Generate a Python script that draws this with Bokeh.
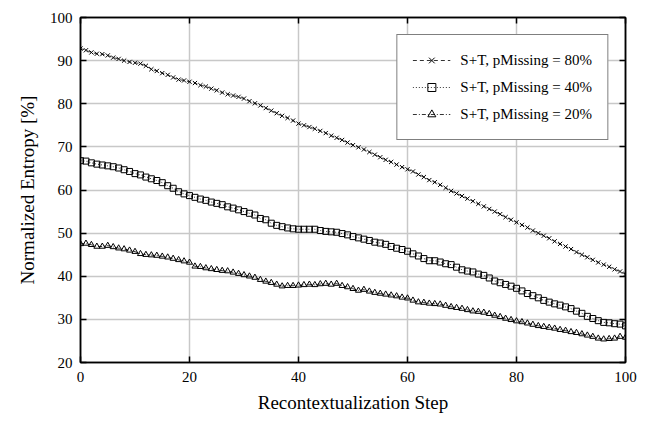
from bokeh.plotting import figure
from bokeh.models import (Range1d, LinearAxis, Legend, LegendItem, FixedTicker,
                          ColumnDataSource)
from bokeh.embed import file_html
from bokeh.resources import INLINE

steps = list(range(0, 101))

p80 = [92.8, 92.4, 91.9, 91.6, 91.5, 91.2, 90.7, 90.4, 90.0, 89.7,
       89.5, 89.3, 88.8, 88.0, 87.6, 87.1, 86.7, 86.1, 85.6, 85.4,
       85.1, 84.8, 84.3, 84.0, 83.5, 83.1, 82.6, 82.2, 81.9, 81.6,
       81.2, 80.6, 80.1, 79.6, 79.0, 78.4, 77.8, 77.2, 76.7, 76.1,
       75.4, 75.0, 74.6, 74.2, 73.7, 73.2, 72.6, 72.1, 71.6, 71.0,
       70.4, 69.9, 69.4, 68.8, 68.2, 67.6, 67.0, 66.5, 65.9, 65.3,
       64.8, 64.3, 63.6, 63.0, 62.3, 61.8, 61.2, 60.5, 59.8, 59.2,
       58.6, 58.0, 57.4, 56.8, 56.2, 55.6, 55.0, 54.4, 53.7, 53.1,
       52.5, 51.9, 51.3, 50.6, 50.0, 49.4, 48.8, 48.1, 47.5, 46.9,
       46.3, 45.6, 45.0, 44.4, 43.8, 43.2, 42.7, 42.2, 41.6, 41.1,
       40.5]

p40 = [66.8, 66.7, 66.3, 66.0, 65.8, 65.6, 65.4, 65.1, 64.7, 64.3,
       63.8, 63.5, 63.0, 62.6, 62.2, 61.7, 61.0, 60.4, 59.6, 59.1,
       58.7, 58.3, 57.9, 57.6, 57.2, 56.9, 56.6, 56.1, 55.8, 55.4,
       55.0, 54.6, 54.2, 53.4, 53.1, 52.3, 51.8, 51.5, 51.2, 51.0,
       50.9, 50.9, 50.9, 50.9, 50.6, 50.4, 50.3, 50.2, 49.9, 49.6,
       49.2, 48.9, 48.6, 48.3, 47.9, 47.7, 47.4, 46.9, 46.5, 46.2,
       45.8, 45.2, 44.7, 44.1, 43.6, 43.6, 43.3, 42.9, 42.7, 42.1,
       41.5, 41.2, 41.0, 40.5, 40.2, 39.6, 38.9, 38.5, 38.1, 37.7,
       37.2, 36.6, 36.0, 35.5, 35.0, 34.4, 34.0, 33.6, 33.3, 32.9,
       32.5, 31.9, 31.4, 30.7, 30.2, 29.7, 29.3, 29.2, 29.0, 28.9,
       28.5]

p20 = [47.5, 47.6, 47.3, 46.9, 46.9, 47.1, 46.8, 46.5, 46.3, 46.0,
       45.7, 45.2, 45.0, 44.9, 44.8, 44.6, 44.4, 44.1, 43.8, 43.5,
       43.2, 42.3, 42.2, 41.9, 41.7, 41.5, 41.3, 41.2, 40.9, 40.6,
       40.3, 40.0, 39.7, 39.2, 38.8, 38.5, 38.1, 37.7, 37.8, 37.8,
       37.9, 38.0, 38.1, 38.0, 38.2, 38.3, 38.1, 38.3, 37.8, 37.5,
       37.1, 36.7, 36.9, 36.5, 36.2, 36.0, 35.8, 35.6, 35.4, 35.1,
       34.9, 34.4, 34.0, 33.9, 33.7, 33.6, 33.5, 33.2, 32.9, 32.7,
       32.5, 32.2, 31.9, 31.8, 31.6, 31.3, 30.9, 30.6, 30.2, 29.9,
       29.6, 29.4, 29.1, 28.8, 28.5, 28.3, 28.1, 27.9, 27.6, 27.4,
       27.1, 26.9, 26.6, 26.3, 26.0, 25.6, 25.4, 25.5, 25.6, 26.0,
       25.8]

labels = ["S+T, pMissing = 80%", "S+T, pMissing = 40%", "S+T, pMissing = 20%"]
x_ticks = [0, 20, 40, 60, 80, 100]
y_ticks = [20, 30, 40, 50, 60, 70, 80, 90, 100]

FONT = "Liberation Serif"

p = figure(width=647, height=421, output_backend="svg", toolbar_location=None,
           x_range=Range1d(0, 100), y_range=Range1d(20, 100),
           min_border_left=80, min_border_right=22, min_border_top=17,
           min_border_bottom=59)
p.background_fill_color = "white"
p.border_fill_color = "white"
p.outline_line_color = "black"
p.outline_line_width = 1.5

def style_axis(ax, show_labels=True):
    ax.axis_line_color = "black"
    ax.axis_line_width = 1.5
    ax.major_tick_in = 6
    ax.major_tick_out = 0
    ax.major_tick_line_width = 1.5
    ax.major_tick_line_color = "black"
    ax.minor_tick_line_color = None
    ax.major_label_text_font = FONT
    ax.axis_label_text_font = FONT
    ax.axis_label_text_font_style = "normal"
    ax.axis_label_text_color = "black"
    ax.axis_label_text_font_size = "19px"
    if show_labels:
        ax.major_label_text_font_size = "15px"
        ax.major_label_text_color = "black"
    else:
        ax.major_label_text_font_size = "0px"
        ax.major_label_text_color = None
        ax.major_label_standoff = 0

p.xaxis.ticker = FixedTicker(ticks=x_ticks)
p.yaxis.ticker = FixedTicker(ticks=y_ticks)
style_axis(p.xaxis[0])
style_axis(p.yaxis[0])
p.xaxis.axis_label = "Recontextualization Step"
p.yaxis.axis_label = "Normalized Entropy [%]"
p.xaxis.major_label_standoff = 9
p.yaxis.major_label_standoff = 8
p.xaxis.axis_label_standoff = 7
p.yaxis.axis_label_standoff = 9

top_ax = LinearAxis(ticker=FixedTicker(ticks=x_ticks))
style_axis(top_ax, show_labels=False)
p.add_layout(top_ax, "above")
right_ax = LinearAxis(ticker=FixedTicker(ticks=y_ticks))
style_axis(right_ax, show_labels=False)
p.add_layout(right_ax, "right")

p.xgrid.ticker = FixedTicker(ticks=x_ticks)
p.ygrid.ticker = FixedTicker(ticks=y_ticks)
p.grid.grid_line_color = "#c8c8c8"
p.grid.grid_line_width = 1.5

src = ColumnDataSource(dict(x=steps, a=p80, b=p40, c=p20))

l1 = p.line("x", "a", source=src, line_color="black", line_width=0.8, line_dash="4 3")
s1 = p.scatter("x", "a", source=src, marker="x", size=6, line_color="black",
               line_width=1.0)
l2 = p.line("x", "b", source=src, line_color="black", line_width=0.8, line_dash="1 2")
s2 = p.scatter("x", "b", source=src, marker="square", size=6, line_color="black",
               line_width=1.0, fill_color=None)
l3 = p.line("x", "c", source=src, line_color="black", line_width=0.8, line_dash="4 2 1 2")
s3 = p.scatter("x", "c", source=src, marker="triangle", size=6, line_color="black",
               line_width=1.0, fill_color=None)

legend = Legend(items=[LegendItem(label=labels[0], renderers=[l1, s1]),
                       LegendItem(label=labels[1], renderers=[l2, s2]),
                       LegendItem(label=labels[2], renderers=[l3, s3])],
                location="top_right")
legend.margin = 17
legend.padding = 15
legend.spacing = 7
legend.glyph_height = 20
legend.glyph_width = 38
legend.label_height = 20
legend.label_standoff = 10
legend.label_text_font = FONT
legend.label_text_font_size = "15px"
legend.label_text_color = "black"
legend.border_line_color = "black"
legend.border_line_width = 1
legend.background_fill_color = "white"
legend.background_fill_alpha = 1.0
p.add_layout(legend)

open("out.html", "w").write(file_html(p, INLINE))
